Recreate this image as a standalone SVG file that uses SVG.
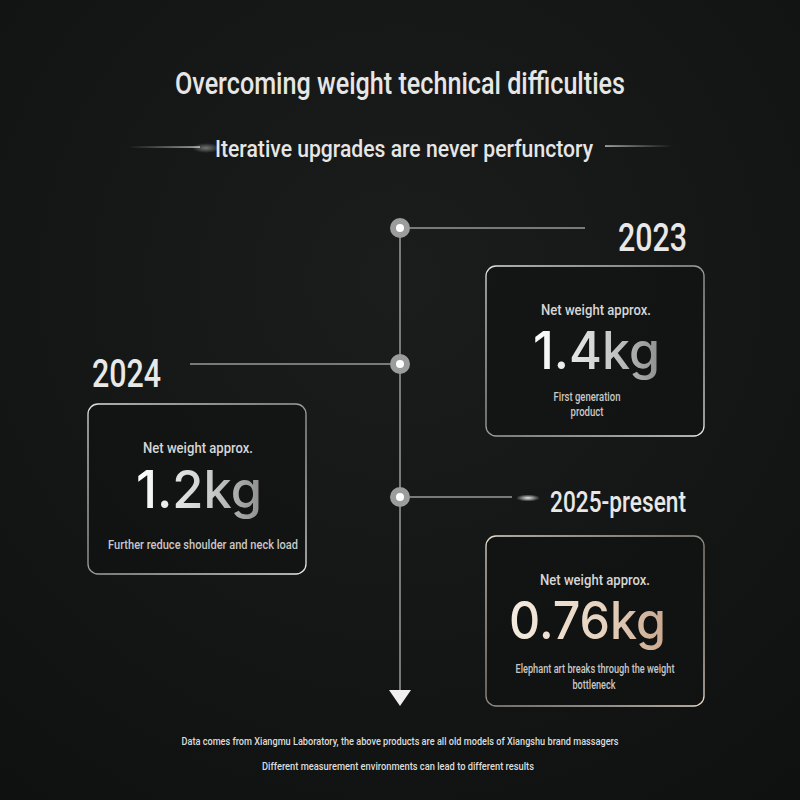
<svg xmlns="http://www.w3.org/2000/svg" width="800" height="800" viewBox="0 0 800 800">
<defs>
<radialGradient id="bg" cx="0.5" cy="0.35" r="0.8">
<stop offset="0" stop-color="#1a1d1b"/>
<stop offset="1" stop-color="#0e110f"/>
</radialGradient>
<linearGradient id="numG" x1="0" y1="0" x2="1" y2="0">
<stop offset="0" stop-color="#ffffff"/>
<stop offset="0.55" stop-color="#d0d0d0"/>
<stop offset="1" stop-color="#8e8e8e"/>
</linearGradient>
<linearGradient id="goldG" x1="0" y1="0" x2="1" y2="0">
<stop offset="0" stop-color="#f4ebe0"/>
<stop offset="0.6" stop-color="#e6d2bf"/>
<stop offset="1" stop-color="#c9a88e"/>
</linearGradient>
<linearGradient id="lineL" x1="0" y1="0" x2="1" y2="0">
<stop offset="0" stop-color="#cfcfcf" stop-opacity="0"/>
<stop offset="1" stop-color="#d8d8d8"/>
</linearGradient>
<linearGradient id="lineR" x1="0" y1="0" x2="1" y2="0">
<stop offset="0" stop-color="#d8d8d8"/>
<stop offset="1" stop-color="#cfcfcf" stop-opacity="0"/>
</linearGradient>
<radialGradient id="glow">
<stop offset="0" stop-color="#ffffff" stop-opacity="0.9"/>
<stop offset="1" stop-color="#ffffff" stop-opacity="0"/>
</radialGradient>
<linearGradient id="cardStroke" x1="0" y1="0" x2="1" y2="1">
<stop offset="0" stop-color="#e0e0e0"/>
<stop offset="0.5" stop-color="#9a9a9a"/>
<stop offset="1" stop-color="#e8e8e8"/>
</linearGradient>
<linearGradient id="cardStrokeG" x1="0" y1="0" x2="1" y2="1">
<stop offset="0" stop-color="#e8dccf"/>
<stop offset="0.5" stop-color="#8f8a84"/>
<stop offset="1" stop-color="#e9d9c8"/>
</linearGradient>
</defs>
<style>
.cond{font-family:Roboto,"Liberation Sans",sans-serif;font-weight:500;}
.title{fill:#e6e6e6;font-size:31px;}
.sub{fill:#e6e6e6;font-size:24px;}
.year{fill:#e8e8e8;font-size:38px;}
.net{fill:#d6d6d6;font-size:15px;}
.desc{fill:#c8c8c8;font-size:12px;}
.num{font-family:Inter,"Liberation Sans",sans-serif;font-size:52px;font-weight:500;}
.foot{fill:#dcdcdc;font-size:11px;}
.card{fill:#111312;fill-opacity:0.6;stroke:url(#cardStroke);stroke-width:1.3;}
.conn{stroke:#9a9a9a;stroke-width:1.5;fill:none;}
.dot{fill:#9c9c9c;}
.dotin{fill:#ffffff;}
</style>
<rect width="800" height="800" fill="url(#bg)"/>

<g id="header">
<text class="cond title" x="400" y="94" text-anchor="middle" textLength="450" lengthAdjust="spacingAndGlyphs">Overcoming weight technical difficulties</text>
<rect x="128" y="146.4" width="72" height="1.3" fill="url(#lineL)"/>
<ellipse cx="206" cy="148" rx="14" ry="5" fill="url(#glow)" opacity="0.45"/>
<text class="cond sub" x="404" y="157" text-anchor="middle" textLength="378" lengthAdjust="spacingAndGlyphs">Iterative upgrades are never perfunctory</text>
<rect x="605" y="145.4" width="68" height="1.3" fill="url(#lineR)"/>
</g>

<g id="connectors">
<line class="conn" x1="400" y1="228" x2="400" y2="692"/>
<polygon points="389,690 411,690 400,706" fill="#f0f0f0"/>
<line class="conn" x1="410" y1="228" x2="585" y2="228"/>
<line class="conn" x1="190" y1="364" x2="390" y2="364"/>
<line class="conn" x1="410" y1="497" x2="512" y2="497"/>
<ellipse cx="528" cy="498" rx="12" ry="3.5" fill="url(#glow)"/>
</g>

<g id="node-2023">
<circle class="dot" cx="400" cy="228" r="10"/>
<circle class="dotin" cx="400" cy="228" r="4"/>
<text class="cond year" x="687" y="251" text-anchor="end" textLength="69" lengthAdjust="spacingAndGlyphs">2023</text>
<rect class="card" x="486" y="266" width="218" height="170" rx="10"/>
<text class="cond net" x="596" y="315" text-anchor="middle" textLength="110" lengthAdjust="spacingAndGlyphs">Net weight approx.</text>
<text class="num" x="596.5" y="369" text-anchor="middle" fill="url(#numG)" textLength="127" lengthAdjust="spacingAndGlyphs">1.4kg</text>
<text class="cond desc" x="587" y="401" text-anchor="middle" textLength="67" lengthAdjust="spacingAndGlyphs">First generation</text>
<text class="cond desc" x="587" y="416" text-anchor="middle" textLength="33" lengthAdjust="spacingAndGlyphs">product</text>
</g>

<g id="node-2024">
<circle class="dot" cx="400" cy="364" r="10"/>
<circle class="dotin" cx="400" cy="364" r="4"/>
<text class="cond year" x="92" y="387" textLength="69" lengthAdjust="spacingAndGlyphs">2024</text>
<rect class="card" x="88" y="404" width="218" height="170" rx="10"/>
<text class="cond net" x="198" y="453" text-anchor="middle" textLength="110" lengthAdjust="spacingAndGlyphs">Net weight approx.</text>
<text class="num" x="199" y="508" text-anchor="middle" fill="url(#numG)" textLength="126" lengthAdjust="spacingAndGlyphs">1.2kg</text>
<text class="cond desc" x="203" y="549" text-anchor="middle" textLength="190" lengthAdjust="spacingAndGlyphs">Further reduce shoulder and neck load</text>
</g>

<g id="node-2025">
<circle class="dot" cx="400" cy="497" r="10"/>
<circle class="dotin" cx="400" cy="497" r="4"/>
<text class="cond year" x="550" y="512" textLength="136" lengthAdjust="spacingAndGlyphs" style="font-size:30px">2025-present</text>
<rect class="card" x="486" y="536" width="218" height="170" rx="10" style="stroke:url(#cardStrokeG)"/>
<text class="cond net" x="595" y="585" text-anchor="middle" textLength="110" lengthAdjust="spacingAndGlyphs">Net weight approx.</text>
<text class="num" x="587.5" y="639" text-anchor="middle" fill="url(#goldG)" textLength="157" lengthAdjust="spacingAndGlyphs">0.76kg</text>
<text class="cond desc" x="595" y="673" text-anchor="middle" textLength="159" lengthAdjust="spacingAndGlyphs">Elephant art breaks through the weight</text>
<text class="cond desc" x="594" y="689" text-anchor="middle" textLength="43" lengthAdjust="spacingAndGlyphs">bottleneck</text>
</g>

<g id="footer">
<text class="cond foot" x="400" y="745" text-anchor="middle" textLength="437" lengthAdjust="spacingAndGlyphs">Data comes from Xiangmu Laboratory, the above products are all old models of Xiangshu brand massagers</text>
<text class="cond foot" x="398" y="770" text-anchor="middle" textLength="272" lengthAdjust="spacingAndGlyphs">Different measurement environments can lead to different results</text>
</g>
</svg>
